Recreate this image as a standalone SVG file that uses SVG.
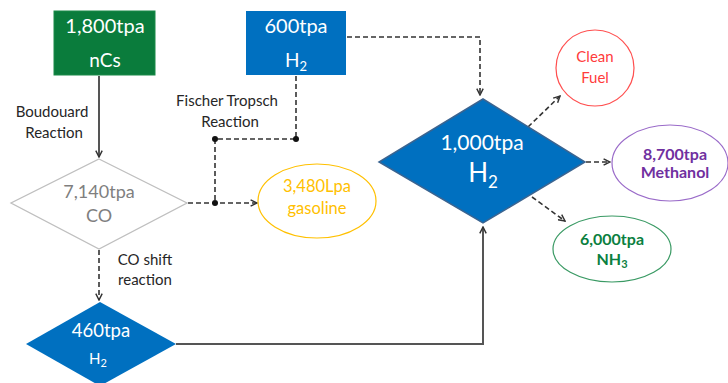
<svg xmlns="http://www.w3.org/2000/svg" width="728" height="383" viewBox="0 0 728 383">
<style>
text{font-family:Lato,"Open Sans","Liberation Sans",sans-serif;text-anchor:middle}
.w{fill:#fff}
.lbl{fill:#262626;font-size:15px}
.dash{fill:none;stroke:#333;stroke-width:1.6;stroke-dasharray:5,3}
.solid{fill:none;stroke:#555;stroke-width:2}
.dot{fill:#111}
</style>
<defs>
<marker id="ah" viewBox="0 0 10 10" refX="9" refY="5" markerWidth="8" markerHeight="8" markerUnits="userSpaceOnUse" orient="auto">
<path d="M1,1 L9,5 L1,9" fill="none" stroke="#333" stroke-width="1.8"/>
</marker>
</defs>
<g id="connectors">
<path class="solid" d="M99,76 V157" marker-end="url(#ah)"/>
<path class="dash" d="M296,76 V139 H215 V203"/>
<path class="dash" d="M188,203 H257" marker-end="url(#ah)"/>
<path class="dash" d="M347,37 H480 V95" marker-end="url(#ah)"/>
<path class="dash" d="M99,250 V300" marker-end="url(#ah)"/>
<path class="solid" d="M176,344 H483 V227" marker-end="url(#ah)"/>
<path class="dash" d="M528,127 L560,96" marker-end="url(#ah)"/>
<path class="dash" d="M586,162 H610" marker-end="url(#ah)"/>
<path class="dash" d="M532,197 L565,221" marker-end="url(#ah)"/>
<circle class="dot" cx="296" cy="139" r="3"/>
<circle class="dot" cx="215" cy="139" r="3"/>
<circle class="dot" cx="215" cy="203" r="3"/>
</g>
<g id="labels">
<text class="lbl" x="52" y="117">Boudouard</text>
<text class="lbl" x="54" y="138">Reaction</text>
<text class="lbl" x="227" y="106">Fischer Tropsch</text>
<text class="lbl" x="230" y="127">Reaction</text>
<text class="lbl" x="145" y="265">CO shift</text>
<text class="lbl" x="145" y="285">reaction</text>
</g>
<g id="nCs">
<rect x="54" y="11" width="101" height="64" fill="#0A7C3C" stroke="#1a8a48" stroke-width="1"/>
<text class="w" x="105" y="33" font-size="20">1,800tpa</text>
<text class="w" x="105" y="67" font-size="19">nCs</text>
</g>
<g id="h2-600">
<rect x="246" y="11" width="100" height="64" fill="#0070C0"/>
<text class="w" x="296" y="33" font-size="20">600tpa</text>
<text class="w" x="296" y="67" font-size="19">H<tspan font-size="13" dy="4">2</tspan></text>
</g>
<g id="co">
<polygon points="99,159 187,203 99,249 11,203" fill="#fff" stroke="#BFBFBF" stroke-width="1.3"/>
<text x="99" y="198" font-size="18" fill="#7F7F7F">7,140tpa</text>
<text x="99" y="222" font-size="18" fill="#7F7F7F">CO</text>
</g>
<g id="gasoline">
<ellipse cx="317" cy="201" rx="59" ry="37" fill="#fff" stroke="#FFC000" stroke-width="1.2"/>
<text x="317" y="192" font-size="16.5" fill="#FFC000">3,480Lpa</text>
<text x="317" y="214" font-size="16.5" fill="#FFC000">gasoline</text>
</g>
<g id="h2-460">
<polygon points="100,302 176,344 100,386 26,344" fill="#0070C0"/>
<text class="w" x="101" y="337" font-size="18.5">460tpa</text>
<text class="w" x="98" y="364" font-size="15">H<tspan font-size="11" dy="3">2</tspan></text>
</g>
<g id="h2-1000">
<polygon points="483,99 585,162 483,223 379,162" fill="#0070C0" stroke="#3A6491" stroke-width="1.5"/>
<text class="w" x="482" y="150" font-size="21">1,000tpa</text>
<text class="w" x="483" y="182" font-size="26">H<tspan font-size="17" dy="6">2</tspan></text>
</g>
<g id="clean-fuel">
<ellipse cx="595" cy="68" rx="39" ry="38" fill="#fff" stroke="#FF4F4F" stroke-width="1.2"/>
<text x="595" y="62" font-size="15" fill="#FF3B3B">Clean</text>
<text x="595" y="83" font-size="15" fill="#FF3B3B">Fuel</text>
</g>
<g id="methanol">
<ellipse cx="670" cy="163" rx="58" ry="38" fill="#fff" stroke="#9A6BC9" stroke-width="1.2"/>
<text x="675" y="160" font-size="16" font-weight="bold" fill="#7030A0">8,700tpa</text>
<text x="675" y="178" font-size="16" font-weight="bold" fill="#7030A0">Methanol</text>
</g>
<g id="nh3">
<ellipse cx="612" cy="249" rx="59" ry="33" fill="#fff" stroke="#3A9A64" stroke-width="1.2"/>
<text x="612" y="245" font-size="16" font-weight="bold" fill="#0B7F3F">6,000tpa</text>
<text x="612" y="265" font-size="16" font-weight="bold" fill="#0B7F3F">NH<tspan font-size="11" dy="3">3</tspan></text>
</g>
</svg>
